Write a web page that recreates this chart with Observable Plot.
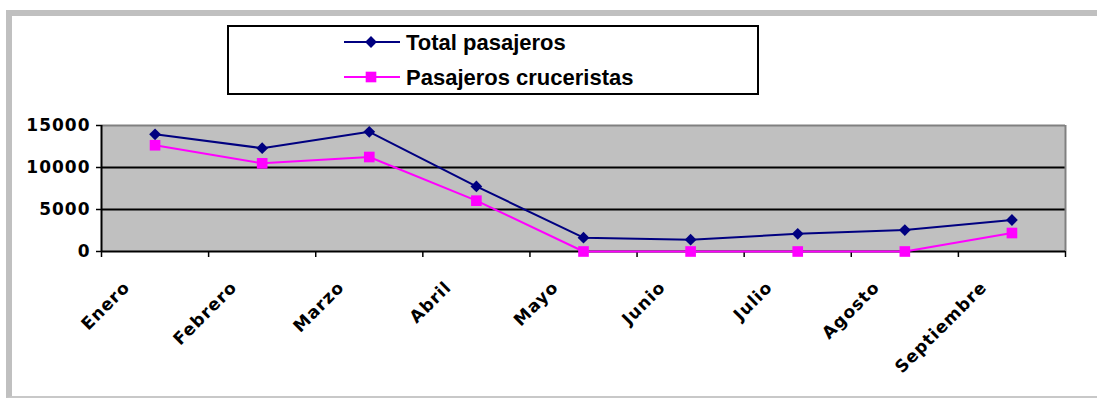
<!DOCTYPE html>
<html>
<head>
<meta charset="utf-8">
<script src="https://cdn.jsdelivr.net/npm/d3@7"></script>
<script src="https://cdn.jsdelivr.net/npm/@observablehq/plot@0.6"></script>
<style>
  html, body { margin: 0; padding: 0; background: #fff; }
  #wrap { position: relative; width: 1097px; height: 401px; overflow: hidden; }
  #border { position: absolute; left: 6px; top: 10px; width: 1091px; height: 388px;
            border-left: 6px solid #c0c0c0; border-top: 6px solid #c0c0c0; border-bottom: 2px solid #c8c8c8;
            box-sizing: border-box; }
  #chart { position: absolute; left: 0; top: 0; }
  #legend { position: absolute; left: 227px; top: 25px; width: 532px; height: 70px;
            border: 2px solid #000; box-sizing: border-box; background: #fff; }
  #legend svg { position: absolute; left: -2px; top: -2px; overflow: visible; }
</style>
</head>
<body>
<div id="wrap">
  <div id="border"></div>
  <div id="chart"></div>
  <div id="legend"></div>
</div>
<script>
const months = ["Enero", "Febrero", "Marzo", "Abril", "Mayo", "Junio", "Julio", "Agosto", "Septiembre"];
const totalPasajeros = [13950, 12300, 14250, 7750, 1650, 1400, 2100, 2550, 3750];
const pasajerosCruceristas = [12650, 10500, 11250, 6050, 0, 0, 0, 0, 2200];
const yTicks = [0, 5000, 10000, 15000];
const seriesNames = ["Total pasajeros", "Pasajeros cruceristas"];
const seriesColors = ["#000080", "#FF00FF"];

const totalRows = totalPasajeros.map((v, i) => ({ pos: i + 0.5, month: months[i], value: v }));
const cruceRows = pasajerosCruceristas.map((v, i) => ({ pos: i + 0.5, month: months[i], value: v }));

const axisFont = { fontFamily: "DejaVu Sans", fontWeight: "bold", fontSize: 17 };

const chart = Plot.plot({
  width: 1097,
  height: 401,
  marginLeft: 101,
  marginRight: 32,
  marginTop: 125,
  marginBottom: 150,
  x: { domain: [0, months.length], axis: null, label: null },
  y: { domain: [0, 15000], axis: null, label: null },
  style: { background: "transparent", color: "#000", letterSpacing: "1px", fontFamily: "DejaVu Sans", fontWeight: "bold", fontSize: "17px" },
  marks: [
    Plot.frame({ fill: "#c0c0c0", stroke: null }),
    Plot.ruleY([5000, 10000], { stroke: "#000", strokeWidth: 2 }),
    Plot.ruleY([15000], { stroke: "#808080", strokeWidth: 2 }),
    Plot.ruleX([months.length], { stroke: "#808080", strokeWidth: 2 }),
    Plot.axisY({ ticks: yTicks, tickSize: 5, tickPadding: 6, tickFormat: d3.format("d"), strokeWidth: 1.5, label: null, ...axisFont }),
    Plot.ruleX([0], { stroke: "#000", strokeWidth: 2 }),
    Plot.axisX({ ticks: d3.range(0, months.length + 1), tickSize: 6, tickFormat: () => "", strokeWidth: 1.5, label: null }),
    Plot.axisX({ ticks: months.map((_, i) => i + 0.5), tickSize: 0, tickPadding: 0, tickRotate: -45, label: null,
                 textAnchor: "end", tickFormat: p => months[Math.floor(p)], dx: -28, dy: 33, ...axisFont }),
    Plot.ruleY([0], { stroke: "#000", strokeWidth: 2 }),
    Plot.line(totalRows, { x: "pos", y: "value", stroke: seriesColors[0], strokeWidth: 2 }),
    Plot.line(cruceRows, { x: "pos", y: "value", stroke: seriesColors[1], strokeWidth: 2 }),
    Plot.dot(totalRows, { x: "pos", y: "value", fill: seriesColors[0], symbol: "diamond2", r: 5.3, stroke: null }),
    Plot.dot(cruceRows, { x: "pos", y: "value", fill: seriesColors[1], symbol: "square", r: 6, stroke: null })
  ]
});
document.getElementById("chart").appendChild(chart);

// Legend
const ns = "http://www.w3.org/2000/svg";
const lsvg = document.createElementNS(ns, "svg");
lsvg.setAttribute("width", 532);
lsvg.setAttribute("height", 70);
const rowsY = [17, 52];
seriesNames.forEach((name, k) => {
  const y = rowsY[k];
  const line = document.createElementNS(ns, "line");
  line.setAttribute("x1", 117); line.setAttribute("x2", 173);
  line.setAttribute("y1", y); line.setAttribute("y2", y);
  line.setAttribute("stroke", seriesColors[k]); line.setAttribute("stroke-width", 2);
  lsvg.appendChild(line);
  const sym = document.createElementNS(ns, "path");
  const symType = k === 0 ? d3.symbolDiamond2 : d3.symbolSquare;
  const size = k === 0 ? Math.PI * 5.3 * 5.3 : Math.PI * 6 * 6;
  sym.setAttribute("d", d3.symbol(symType, size)());
  sym.setAttribute("transform", `translate(144,${y})`);
  sym.setAttribute("fill", seriesColors[k]);
  lsvg.appendChild(sym);
  const t = document.createElementNS(ns, "text");
  t.setAttribute("x", 179); t.setAttribute("y", y + 8);
  t.setAttribute("font-family", "Liberation Sans, Arial, sans-serif");
  t.setAttribute("font-weight", "bold");
  t.setAttribute("font-size", 22);
  t.setAttribute("fill", "#000");
  t.textContent = name;
  lsvg.appendChild(t);
});
document.getElementById("legend").appendChild(lsvg);
</script>
</body>
</html>
